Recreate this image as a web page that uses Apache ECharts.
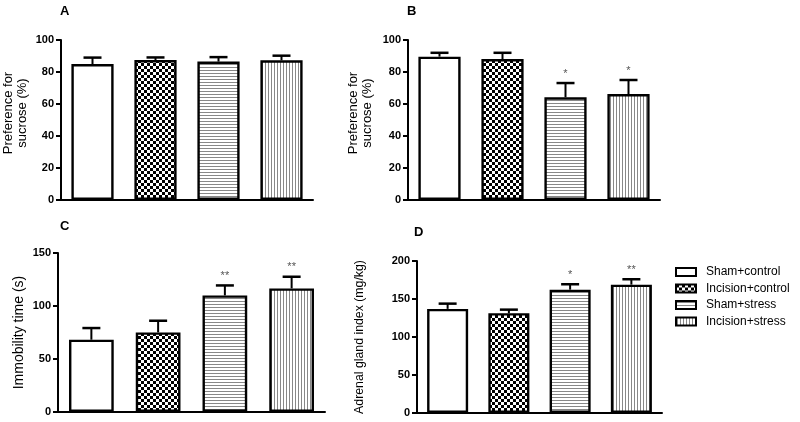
<!DOCTYPE html>
<html><head><meta charset="utf-8">
<script src="https://cdn.jsdelivr.net/npm/echarts@6/dist/echarts.min.js"></script>
<style>html,body{margin:0;padding:0;background:#fff}#c{width:800px;height:422px}</style>
</head><body><div id="c"></div>
<script>
const categories = ['Sham+control', 'Incision+control', 'Sham+stress', 'Incision+stress'];
const panelLetters = ['A', 'B', 'C', 'D'];
const yNames = ['Preference for\nsucrose (%)', 'Preference for\nsucrose (%)', 'Immobility time (s)', 'Adrenal gland index (mg/kg)'];
const meanA = [85.0, 87.5, 86.5, 87.3];
const semA  = [4.0, 1.6, 2.8, 2.9];
const starA = ['', '', '', ''];
const meanB = [89.6, 88.1, 64.2, 66.2];
const semB  = [2.4, 3.9, 8.9, 8.8];
const starB = ['', '', '*', '*'];
const meanC = [68.2, 75.1, 110.0, 116.6];
const semC  = [11.0, 11.0, 9.4, 11.0];
const starC = ['', '', '**', '**'];
const meanD = [137.0, 131.3, 162.3, 168.9];
const semD  = [6.9, 4.7, 7.1, 7.1];
const starD = ['', '', '*', '**'];
const yMax = [100, 100, 150, 200];
const yInterval = [20, 20, 50, 50];

const means = [meanA, meanB, meanC, meanD];
const sems = [semA, semB, semC, semD];
const stars = [starA, starB, starC, starD];

function makePattern(kind) {
  const c = document.createElement('canvas');
  const ctx = c.getContext('2d');
  if (kind === 'plain') { c.width = 2; c.height = 2; ctx.fillStyle = '#fff'; ctx.fillRect(0,0,2,2); }
  else if (kind === 'check') {
    c.width = 6; c.height = 6; ctx.fillStyle = '#fff'; ctx.fillRect(0,0,6,6);
    ctx.fillStyle = '#000'; ctx.fillRect(0,0,3,3); ctx.fillRect(3,3,3,3);
  } else if (kind === 'h') {
    c.width = 3; c.height = 3; ctx.fillStyle = '#fff'; ctx.fillRect(0,0,3,3);
    ctx.fillStyle = '#888'; ctx.fillRect(0,1,3,1);
  } else {
    c.width = 3; c.height = 3; ctx.fillStyle = '#fff'; ctx.fillRect(0,0,3,3);
    ctx.fillStyle = '#888'; ctx.fillRect(1,0,1,3);
  }
  return { image: c, repeat: 'repeat' };
}
const patterns = [makePattern('plain'), makePattern('check'), makePattern('h'), makePattern('v')];

const grids = [
  { left: 60, top: 40, width: 253, height: 160 },
  { left: 408, top: 40, width: 252, height: 160 },
  { left: 58, top: 253, width: 267, height: 159 },
  { left: 417, top: 261, width: 245, height: 152 }
];
const nameGaps = [32, 34, 32, 50];
const nameSizes = [13, 13, 14, 12.3];
const namePads = [[0, 0, 0, 14], [0, 0, 0, 14], [0, 0, 0, 0], [0, 0, 0, 0]];
const titlePos = [[55, 0], [402, 0], [55, 215], [409, 221]];
const font = 'Liberation Sans, Arial, sans-serif';

const xAxes = [], yAxes = [], series = [], titles = [];
for (let g = 0; g < 4; g++) {
  xAxes.push({
    type: 'category', gridIndex: g, data: categories,
    axisLine: { lineStyle: { color: '#000', width: 2 } },
    axisTick: { show: false }, axisLabel: { show: false }
  });
  yAxes.push({
    type: 'value', gridIndex: g, min: 0, max: yMax[g], interval: yInterval[g],
    name: yNames[g], nameLocation: 'middle', nameRotate: 90, nameGap: nameGaps[g],
    nameTextStyle: { fontSize: nameSizes[g], color: '#000', fontFamily: font, lineHeight: 14, padding: namePads[g] },
    axisLine: { show: true, lineStyle: { color: '#000', width: 2 } },
    axisTick: { show: true, length: 5, lineStyle: { color: '#000', width: 2 } },
    axisLabel: { color: '#000', fontWeight: 'bold', fontSize: 11, fontFamily: font, margin: 7 },
    splitLine: { show: false }
  });
  titles.push({ text: panelLetters[g], left: titlePos[g][0], top: titlePos[g][1],
    textStyle: { fontSize: 13, fontWeight: 'bold', color: '#000', fontFamily: font } });
  for (let i = 0; i < 4; i++) {
    series.push({
      type: 'bar', name: categories[i], xAxisIndex: g, yAxisIndex: g,
      data: categories.map((_, j) => j === i ? means[g][j] : '-'),
      barWidth: '67%', barGap: '-100%', z: 2,
      itemStyle: { color: patterns[i], borderColor: '#000', borderWidth: 2.4 }
    });
  }
  series.push({
    type: 'custom', xAxisIndex: g, yAxisIndex: g, z: 5,
    data: means[g].map((m, j) => [j, m + sems[g][j], m, stars[g][j]]),
    encode: { x: 0, y: 1 },
    renderItem: function (params, api) {
      const x = api.value(0);
      const top = api.coord([x, api.value(1)]);
      const base = api.coord([x, api.value(2)]);
      const st = api.value(3);
      const children = [
        { type: 'line', shape: { x1: top[0], y1: top[1], x2: base[0], y2: base[1] }, style: { stroke: '#000', lineWidth: 2 } },
        { type: 'line', shape: { x1: top[0] - 9, y1: top[1], x2: top[0] + 9, y2: top[1] }, style: { stroke: '#000', lineWidth: 2.5 } }
      ];
      if (st) children.push({ type: 'text', style: { text: st, x: top[0], y: top[1] - 4, align: 'center', verticalAlign: 'bottom', fill: '#555', font: '11px ' + font } });
      return { type: 'group', children: children };
    }
  });
}

const chart = echarts.init(document.getElementById('c'), null, { renderer: 'canvas' });
chart.setOption({
  animation: false,
  backgroundColor: '#fff',
  title: titles,
  grid: grids,
  xAxis: xAxes,
  yAxis: yAxes,
  legend: {
    data: categories, orient: 'vertical', left: 670, top: 261, padding: 5,
    itemWidth: 20, itemHeight: 8, itemGap: 4.5, icon: 'rect',
    itemStyle: { borderColor: '#000', borderWidth: 2 },
    textStyle: { fontSize: 12, color: '#000', fontFamily: font, padding: [0, 0, 0, 5] }
  },
  series: series
});
</script></body></html>
